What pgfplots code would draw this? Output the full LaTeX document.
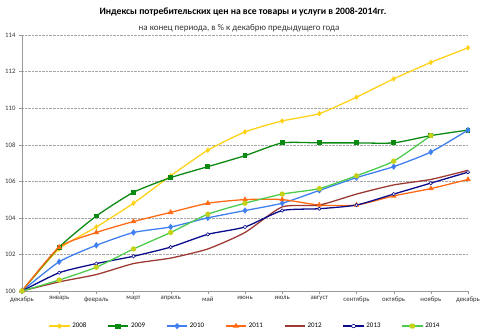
\documentclass[border=0pt]{standalone}
\usepackage{pgfplots}
\pgfplotsset{compat=1.18}
\usepackage{fontspec}
\setmainfont{Carlito}
\definecolor{c08}{HTML}{FFD21A}
\definecolor{c09}{HTML}{0B8A12}
\definecolor{c10}{HTML}{3F7FF0}
\definecolor{c11}{HTML}{FF6A14}
\definecolor{c12}{HTML}{9E3A34}
\definecolor{c13}{HTML}{0A0A8C}
\definecolor{c14}{HTML}{4CCB4C}
\definecolor{m14}{HTML}{C5D21A}
\begin{document}
\begin{tikzpicture}
\useasboundingbox (-22bp,-42bp) rectangle (467bp,291bp);
\begin{axis}[
  scale only axis,
  width=446bp, height=256bp,
  xmin=0, xmax=12, ymin=100, ymax=114,
  xtick={0,...,12},
  xticklabels={декабрь,январь,февраль,март,апрель,май,июнь,июль,август,сентябрь,октябрь,ноябрь,декабрь},
  ytick={100,102,...,114},
  axis x line*=bottom, axis y line*=left,
  axis line style={draw=gray!80, -},
  tick align=outside, major tick length=3bp,
  tick style={draw=gray!80},
  ymajorgrids, grid style={densely dotted, gray!70},
  tick label style={font=\fontsize{6.8}{8}\selectfont, text=black!80},
  /pgf/number format/assume math mode=true,
  xticklabel style={yshift=1bp},
  legend style={at={(0.5,-0.137)}, anchor=center, draw=none, fill=none,
    font=\fontsize{7}{8}\selectfont, legend columns=7,
    /tikz/every even column/.append style={column sep=19bp}},
  legend image post style={xscale=1.2},
  every axis plot/.append style={line width=1.3pt, smooth, tension=0.35},
  clip=false
]
\addplot[c08, mark=diamond*, mark size=1.8pt] coordinates {(0,100)(1,102.3)(2,103.5)(3,104.8)(4,106.3)(5,107.7)(6,108.7)(7,109.3)(8,109.7)(9,110.6)(10,111.6)(11,112.5)(12,113.3)};
\addlegendentry{2008}
\addplot[c09, mark=square*, mark size=1.8pt] coordinates {(0,100)(1,102.4)(2,104.1)(3,105.4)(4,106.2)(5,106.8)(6,107.4)(7,108.1)(8,108.1)(9,108.1)(10,108.1)(11,108.5)(12,108.8)};
\addlegendentry{2009}
\addplot[c10, mark=diamond*, mark size=2.2pt] coordinates {(0,100)(1,101.6)(2,102.5)(3,103.2)(4,103.5)(5,104.0)(6,104.4)(7,104.8)(8,105.5)(9,106.2)(10,106.8)(11,107.6)(12,108.8)};
\addlegendentry{2010}
\addplot[c11, mark=triangle*, mark size=2pt] coordinates {(0,100)(1,102.4)(2,103.2)(3,103.8)(4,104.3)(5,104.8)(6,105.0)(7,105.0)(8,104.7)(9,104.7)(10,105.2)(11,105.6)(12,106.1)};
\addlegendentry{2011}
\addplot[c12, no marks] coordinates {(0,100)(1,100.5)(2,100.9)(3,101.5)(4,101.8)(5,102.3)(6,103.2)(7,104.6)(8,104.7)(9,105.3)(10,105.8)(11,106.1)(12,106.6)};
\addlegendentry{2012}
\addplot[c13, mark=*, mark size=1.7pt, mark options={fill=white, draw=c13, line width=0.6pt}] coordinates {(0,100)(1,101.0)(2,101.5)(3,101.9)(4,102.4)(5,103.1)(6,103.5)(7,104.4)(8,104.5)(9,104.7)(10,105.3)(11,105.9)(12,106.5)};
\addlegendentry{2013}
\addplot[c14, mark=*, mark size=2pt, mark options={fill=m14, draw=m14}] coordinates {(0,100)(1,100.6)(2,101.3)(3,102.3)(4,103.2)(5,104.2)(6,104.8)(7,105.3)(8,105.6)(9,106.3)(10,107.1)(11,108.5)};
\addlegendentry{2014}
\end{axis}
\node[font=\bfseries\fontsize{9.7}{11}\selectfont] at (221bp,279bp) {Индексы потребительских цен на все товары и услуги в 2008-2014гг.};
\node[font=\fontsize{9}{11}\selectfont, text=black!80] at (217bp,263bp) {на конец периода, в \% к декабрю предыдущего года};
\end{tikzpicture}
\end{document}
